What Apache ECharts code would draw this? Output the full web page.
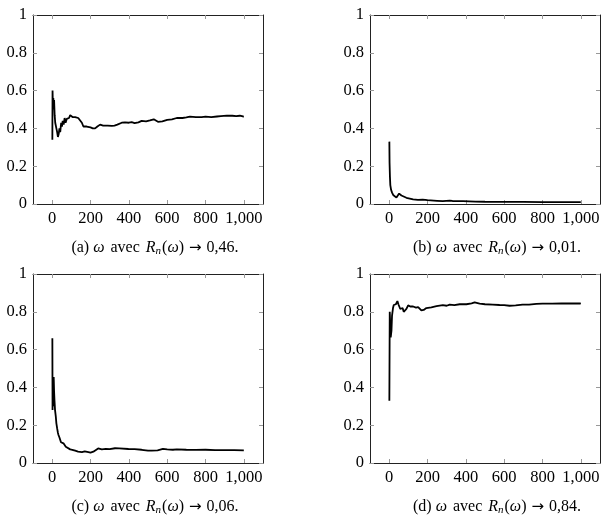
<!DOCTYPE html>
<html>
<head>
<meta charset="utf-8">
<script src="https://cdn.jsdelivr.net/npm/echarts@6/dist/echarts.min.js"></script>
<style>
html,body{margin:0;padding:0;background:#fff;}
#main{width:612px;height:518px;}
</style>
</head>
<body>
<div id="main"></div>
<script>
// valeurs
var xTicks = [0, 200, 400, 600, 800, 1000];

var xA = [1,2,4,6,8,10,13,16,19,22,26,30,34,38,42,47,51,55,60,65,70,76,82,88,94,100,106,112,120,128,136,146,155,163,172,180,190,200,212,224,236,250,258,266,276,290,300,311,325,340,363,380,400,415,430,450,467,490,510,530,552,575,600,625,650,680,700,719,750,780,800,830,860,880,911,940,960,979,995,1000];
var yA = [0.34,0.60,0.50,0.56,0.52,0.55,0.47,0.43,0.44,0.40,0.38,0.355,0.37,0.40,0.38,0.43,0.41,0.44,0.42,0.455,0.43,0.45,0.44,0.455,0.47,0.475,0.46,0.455,0.46,0.452,0.455,0.445,0.43,0.41,0.405,0.41,0.405,0.405,0.40,0.40,0.41,0.42,0.425,0.415,0.41,0.415,0.412,0.413,0.415,0.42,0.43,0.432,0.43,0.433,0.428,0.432,0.44,0.437,0.442,0.448,0.435,0.437,0.445,0.448,0.455,0.455,0.458,0.462,0.46,0.46,0.462,0.46,0.463,0.465,0.468,0.467,0.465,0.467,0.463,0.464];

var xB = [1,2,4,6,10,15,21,30,38,47,52,64,90,125,150,160,175,200,250,280,316,330,385,450,500,600,700,800,900,1000];
var yB = [0.33,0.22,0.145,0.10,0.075,0.06,0.048,0.04,0.034,0.026,0.055,0.045,0.033,0.025,0.022,0.026,0.023,0.02,0.017,0.015,0.018,0.016,0.015,0.013,0.012,0.011,0.011,0.01,0.01,0.01];

var xC = [1,2,4,6,8,10,12,15,19,22,26,30,33,38,42,46,50,54,59,65,71,80,94,105,120,135,155,170,189,200,215,224,240,259,280,300,328,350,398,430,467,500,519,550,578,600,630,650,700,750,800,850,900,950,1000];
var yC = [0.66,0.28,0.40,0.30,0.455,0.38,0.333,0.28,0.245,0.21,0.183,0.16,0.148,0.135,0.125,0.11,0.12,0.112,0.104,0.095,0.086,0.08,0.072,0.07,0.065,0.06,0.058,0.062,0.058,0.055,0.06,0.07,0.077,0.072,0.075,0.073,0.078,0.077,0.074,0.073,0.07,0.066,0.065,0.067,0.075,0.072,0.07,0.072,0.07,0.069,0.07,0.068,0.068,0.068,0.067];

var xD = [1,3,5,8,12,15,20,24,30,35,40,43,48,52,58,64,70,76,82,90,99,110,125,140,151,160,168,180,194,220,247,280,300,316,340,368,403,430,446,472,500,540,576,600,628,660,696,730,768,800,850,900,950,993,1000];
var yD = [0.33,0.80,0.75,0.665,0.70,0.78,0.82,0.836,0.83,0.84,0.85,0.857,0.84,0.83,0.815,0.806,0.82,0.80,0.792,0.815,0.834,0.828,0.828,0.822,0.825,0.815,0.807,0.81,0.82,0.823,0.83,0.835,0.832,0.838,0.835,0.84,0.84,0.845,0.85,0.843,0.84,0.838,0.836,0.835,0.832,0.834,0.838,0.838,0.842,0.843,0.843,0.845,0.844,0.845,0.843];

var lettres = ['a', 'b', 'c', 'd'];
var limites = ['0,46', '0,01', '0,06', '0,84'];

function paires(xs, ys) {
    var out = [];
    for (var i = 0; i < xs.length; i++) out.push([xs[i], ys[i]]);
    return out;
}

var police = 'Liberation Serif';
var grilles = [
    {left: 33, top: 15, width: 230, height: 189},
    {left: 370, top: 15, width: 230, height: 189},
    {left: 33, top: 274, width: 230, height: 189},
    {left: 370, top: 274, width: 230, height: 189}
];
var legendes = [[155, 248], [497, 248], [155, 507], [497, 507]];
var donnees = [paires(xA, yA), paires(xB, yB), paires(xC, yC), paires(xD, yD)];

var xAxes = [], yAxes = [], series = [], graphics = [];
for (var g = 0; g < 4; g++) {
    // axe du bas (avec etiquettes) et axe du haut (graduations seules)
    ['bottom', 'top'].forEach(function (pos) {
        xAxes.push({
            type: 'value', gridIndex: g, position: pos,
            min: -100, max: 1100,
            axisLine: {show: true, onZero: false, lineStyle: {color: '#222', width: 1}},
            axisTick: {show: true, inside: true, length: 4, customValues: xTicks, lineStyle: {color: '#999', width: 1}},
            axisLabel: {
                show: pos == 'bottom', customValues: xTicks, margin: 6,
                color: '#000', fontFamily: police, fontSize: 16.5,
                formatter: function (v) { return v == 1000 ? '1,000' : String(v); }
            },
            splitLine: {show: false}
        });
    });
    ['left', 'right'].forEach(function (pos) {
        yAxes.push({
            type: 'value', gridIndex: g, position: pos,
            min: 0, max: 1, interval: 0.2,
            axisLine: {show: true, onZero: false, lineStyle: {color: '#222', width: 1}},
            axisTick: {show: true, inside: true, length: 4, lineStyle: {color: '#999', width: 1}},
            axisLabel: {
                show: pos == 'left', margin: 6,
                color: '#000', fontFamily: police, fontSize: 16.5,
                formatter: function (v) { return (v == 0 || v == 1) ? String(v) : v.toFixed(1); }
            },
            splitLine: {show: false}
        });
    });
    series.push({
        type: 'line', xAxisIndex: g * 2, yAxisIndex: g * 2,
        data: donnees[g], showSymbol: false, silent: true,
        lineStyle: {color: '#000', width: 1.8}
    });
    graphics.push({
        type: 'text', x: legendes[g][0], y: legendes[g][1],
        style: {
            text: '(' + lettres[g] + ') {i|ω}{e| }avec{e| }{i|R}{s|n}({i|ω}){ar|→}' + limites[g] + '.',
            font: '16px ' + police, fill: '#000',
            align: 'center', verticalAlign: 'middle',
            rich: {
                i: {fontFamily: police, fontSize: 16, fontStyle: 'italic'},
                e: {fontFamily: police, fontSize: 16, padding: [0, 1, 0, 1]},
                s: {fontFamily: police, fontSize: 11, fontStyle: 'italic', padding: [7, 1, 0, 0]},
                ar: {fontFamily: 'DejaVu Sans', fontSize: 15, padding: [0, 5, 0, 5]}
            }
        }
    });
}

var myChart = echarts.init(document.getElementById('main'));
var option = {
    backgroundColor: '#fff',
    animation: false,
    grid: grilles,
    xAxis: xAxes,
    yAxis: yAxes,
    series: series,
    graphic: graphics
};
myChart.setOption(option);
</script>
</body>
</html>
